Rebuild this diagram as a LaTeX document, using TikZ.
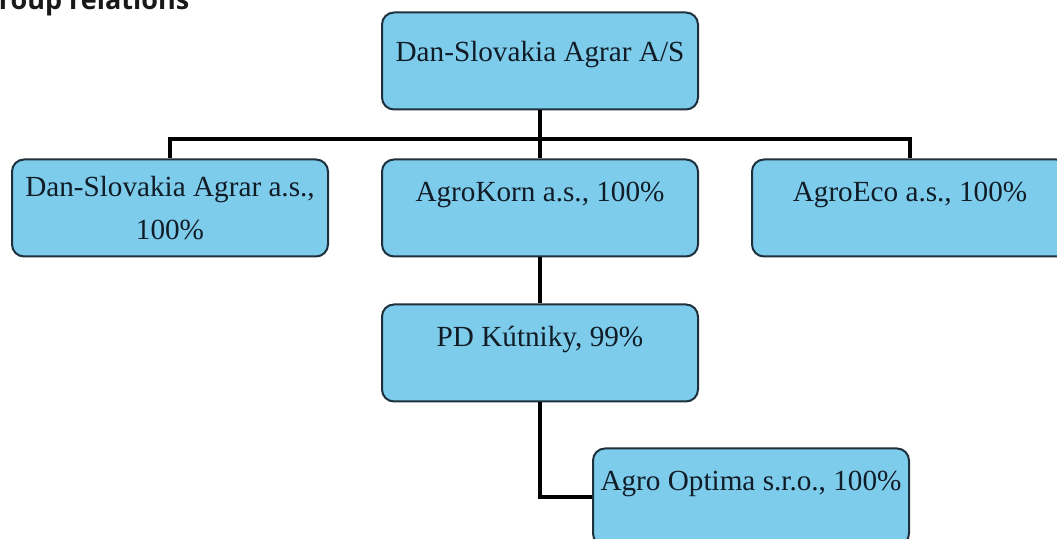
\documentclass[tikz,border=0pt]{standalone}
\usepackage{fontspec}
\setmainfont{Liberation Serif}
\newfontfamily\titlefont{Open Sans}
\usepackage{xcolor}
\definecolor{boxblue}{RGB}{126,204,236}
\definecolor{boxedge}{RGB}{30,48,60}
\definecolor{boxtext}{RGB}{16,28,38}

\begin{document}
\begin{tikzpicture}[x=0.5pt, y=-0.5pt,
    unit/.style={rectangle, rounded corners=6pt, draw=boxedge, line width=1pt, fill=boxblue,
        minimum width=158pt, minimum height=48.5pt, inner sep=0pt, text=boxtext,
        font=\fontsize{14.6pt}{21.5pt}\selectfont},
    oneline/.style={unit, text height=21pt, text depth=27.5pt},
    twoline/.style={unit, align=center},
    link/.style={line width=2pt, draw=black}
    ]
    \useasboundingbox (0,0) rectangle (1057,539);

    % title, cut by the page edge
    \node[anchor=base west, inner sep=0pt, font=\titlefont\bfseries\fontsize{13.5pt}{16pt}\selectfont, text=black!90] (title) at (-21,10) {Group relations};

    % companies
    \node[oneline, text height=24pt, text depth=23pt] (parent) at (540,61) {Dan-Slovakia Agrar A/S};
    \node[twoline] (dsa) at (170,208) {Dan-Slovakia Agrar a.s.,\\100\%};
    \node[oneline] (korn) at (540,208) {AgroKorn a.s., 100\%};
    \node[oneline] (eco) at (910,208) {AgroEco a.s., 100\%};
    \node[oneline] (kut) at (540,353) {PD Kútniky, 99\%};
    \node[oneline] (optima) at (751,497) {Agro Optima s.r.o., 100\%};

    % ownership lines
    \draw[link] (parent.south) -- ++(0,29) -| (dsa.north);
    \draw[link] (parent.south) -- ++(0,29) -| (eco.north);
    \draw[link] (parent) -- (korn);
    \draw[link] (korn) -- (kut);
    \draw[link] (kut.south) |- (optima.west);
\end{tikzpicture}
\end{document}
